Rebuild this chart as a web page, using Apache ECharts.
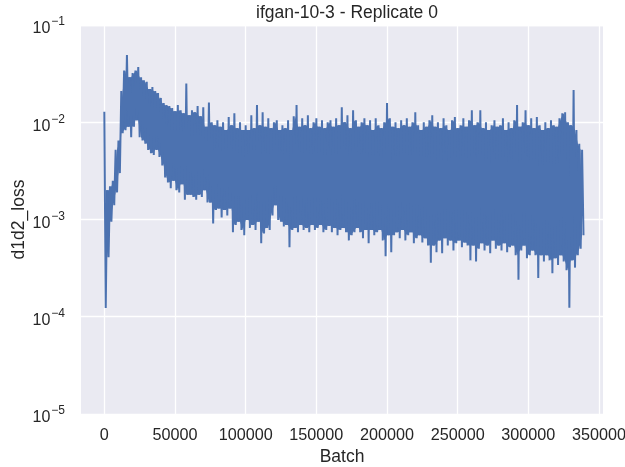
<!DOCTYPE html>
<html>
<head>
<meta charset="utf-8">
<script src="https://cdn.jsdelivr.net/npm/echarts@6/dist/echarts.min.js"></script>
<style>
html,body{margin:0;padding:0;background:#ffffff;}
#chart{width:625px;height:467px;}
</style>
</head>
<body>
<div id="chart"></div>
<script>
// Sampled envelope of the noisy loss trace (every 2000 batches): upper and lower excursions
const batchStep = 2000;
const hiValues = [0.0128,0.0020,0.0022,0.0025,0.0052,0.0065,0.021,0.034,0.049,0.029,
0.032,0.034,0.037,0.029,0.027,0.026,0.022,0.023,0.021,0.020,
0.0178,0.0158,0.0150,0.0147,0.0140,0.0130,0.0150,0.0133,0.0124,0.025,
0.0118,0.0133,0.0127,0.0147,0.0115,0.0143,0.0090,0.016,0.0100,0.0093,
0.0105,0.0090,0.0100,0.0083,0.0113,0.0093,0.0124,0.0087,0.0100,0.0083,
0.0093,0.0083,0.0118,0.0087,0.0150,0.0093,0.0127,0.0090,0.0110,0.0087,
0.0100,0.0105,0.0083,0.0093,0.0087,0.0105,0.0083,0.0115,0.0150,0.0090,
0.0110,0.0093,0.0118,0.0087,0.0100,0.0110,0.0090,0.0105,0.0087,0.0100,
0.0105,0.0090,0.0110,0.0093,0.0143,0.0100,0.0118,0.0087,0.0133,0.0105,
0.0090,0.0100,0.0110,0.0093,0.0105,0.0083,0.0110,0.0093,0.0087,0.0100,
0.0158,0.0110,0.0090,0.0100,0.0087,0.0105,0.0093,0.0110,0.0090,0.0100,
0.0127,0.0093,0.0083,0.0100,0.0090,0.0105,0.0118,0.0090,0.0100,0.0087,
0.0110,0.0093,0.0083,0.0105,0.0113,0.0087,0.0093,0.0110,0.0090,0.0105,
0.0133,0.0093,0.0100,0.0133,0.0087,0.0100,0.0083,0.0093,0.0105,0.0090,
0.0093,0.0110,0.0083,0.0100,0.0087,0.0105,0.0150,0.0090,0.0100,0.0133,
0.0093,0.0110,0.0087,0.0113,0.0093,0.0083,0.0100,0.0087,0.0105,0.0093,
0.0090,0.0110,0.0124,0.0127,0.0100,0.0093,0.0214,0.0083,0.0060,0.0052];
const loValues = [0.000123,0.00041,0.00095,0.0014,0.0019,0.0030,0.0077,0.0083,0.0090,0.0070,
0.0090,0.0105,0.0070,0.0065,0.0060,0.0052,0.0048,0.0046,0.0052,0.0044,
0.0036,0.0027,0.0024,0.0021,0.0025,0.0020,0.0019,0.0023,0.0016,0.0018,
0.0018,0.0017,0.0016,0.0018,0.0017,0.0020,0.0015,0.0015,0.00091,0.00125,
0.0013,0.00105,0.00125,0.0011,0.0013,0.00074,0.00088,0.00095,0.00078,0.00069,
0.00099,0.00082,0.00088,0.00078,0.00095,0.00057,0.00072,0.00082,0.00078,0.0011,
0.0014,0.00099,0.00095,0.00085,0.00088,0.00052,0.00078,0.00082,0.00074,0.00088,
0.00078,0.00082,0.00074,0.00088,0.00078,0.00082,0.00088,0.00074,0.00078,0.00086,
0.00074,0.00082,0.00069,0.00078,0.00082,0.00074,0.00061,0.00069,0.00074,0.00082,
0.00074,0.00064,0.00078,0.00057,0.00078,0.00069,0.00074,0.00078,0.00061,0.00042,
0.00069,0.00046,0.00069,0.00074,0.00064,0.00078,0.00061,0.00069,0.00074,0.00057,
0.00064,0.00069,0.00058,0.00064,0.00054,0.00036,0.00054,0.00046,0.00061,0.00045,
0.00064,0.00054,0.00061,0.00048,0.00057,0.00061,0.00052,0.00058,0.00054,0.00038,
0.00054,0.00037,0.00050,0.00057,0.00048,0.00054,0.00045,0.00061,0.00050,0.00054,
0.00048,0.00057,0.00046,0.00052,0.00054,0.00043,0.00024,0.00048,0.00054,0.00040,
0.00043,0.00048,0.00043,0.00025,0.00043,0.00037,0.00043,0.00038,0.00028,0.00040,
0.00034,0.00043,0.00037,0.00030,0.000124,0.00038,0.00032,0.00043,0.00050,0.00069];
const xTicks = [0,50000,100000,150000,200000,250000,300000,350000];
const yTicks = [1e-5,1e-4,1e-3,1e-2,1e-1];

// zigzag trace: each sample's upper excursion followed by its lower excursion
const points = [];
for (let i = 0; i < hiValues.length; i++) {
  const b = i * batchStep;
  points.push([b, hiValues[i]]);
  points.push([b + batchStep / 2, loValues[i]]);
}
// solid core of the dense trace: between adjacent peaks (lower of the two) and adjacent troughs (higher of the two)
const coreTop = [], coreBottom = [];
for (let i = 0; i < hiValues.length - 1; i++) {
  coreTop.push([i * batchStep + batchStep / 2, Math.min(hiValues[i], hiValues[i + 1])]);
}
for (let i = 1; i < loValues.length; i++) {
  coreBottom.push([i * batchStep, Math.max(loValues[i - 1], loValues[i])]);
}

const FONT = "'Liberation Sans', Arial, sans-serif";
const TXT = '#262626';
const BLUE = '#4c72b0';
const chart = echarts.init(document.getElementById('chart'), null, {renderer: 'canvas'});
chart.setOption({
  animation: false,
  backgroundColor: '#ffffff',
  title: {
    text: 'ifgan-10-3 - Replicate 0',
    left: 342, textAlign: 'center', top: -1,
    textStyle: {fontFamily: FONT, fontSize: 17.5, fontWeight: 'normal', color: TXT}
  },
  grid: {left: 81, right: 22, top: 25, bottom: 53, show: true, backgroundColor: '#eaeaf2', borderWidth: 0,
         containLabel: false, outerBoundsMode: 'none'},
  xAxis: {
    type: 'value', min: -16500, max: 352800,
    axisLine: {show: false},
    axisTick: {show: false, customValues: xTicks},
    splitLine: {show: true, lineStyle: {color: '#ffffff', width: 1.3}},
    axisLabel: {
      fontFamily: FONT, fontSize: 16.2, color: TXT, margin: 14,
      customValues: xTicks,
      formatter: v => String(v)
    },
    name: 'Batch', nameLocation: 'middle', nameGap: 34, nameMoveOverlap: false,
    nameTextStyle: {fontFamily: FONT, fontSize: 17.5, color: TXT}
  },
  yAxis: {
    type: 'log', logBase: 10, min: yTicks[0], max: yTicks[yTicks.length - 1], interval: 1,
    axisLine: {show: false}, axisTick: {show: false},
    splitLine: {show: true, lineStyle: {color: '#ffffff', width: 1.3}},
    axisLabel: {
      margin: 16,
      formatter: v => '{b|10}{s|\u2212' + Math.abs(Math.round(Math.log10(v))) + '}',
      rich: {
        b: {fontFamily: FONT, fontSize: 16, color: TXT, padding: [8, 0, 0, 0]},
        s: {fontFamily: FONT, fontSize: 12, color: TXT, padding: [0, 0, 6, 1]}
      }
    },
    name: 'd1d2_loss', nameLocation: 'middle', nameGap: 53, nameRotate: 90, nameMoveOverlap: false,
    nameTextStyle: {fontFamily: FONT, fontSize: 17.5, color: TXT}
  },
  series: [{
    type: 'custom',
    data: [[0, 1e-3]],
    silent: true,
    clip: true,
    z: 2,
    renderItem: (params, api) => {
      const pts = coreTop.map(p => api.coord(p));
      for (let i = coreBottom.length - 1; i >= 0; i--) pts.push(api.coord(coreBottom[i]));
      return {type: 'polygon', shape: {points: pts}, style: {fill: BLUE, stroke: null}};
    }
  }, {
    type: 'line',
    data: points,
    showSymbol: false,
    symbol: 'none',
    lineStyle: {color: BLUE, width: 2, join: 'miter'},
    z: 3
  }]
});
</script>
</body>
</html>
